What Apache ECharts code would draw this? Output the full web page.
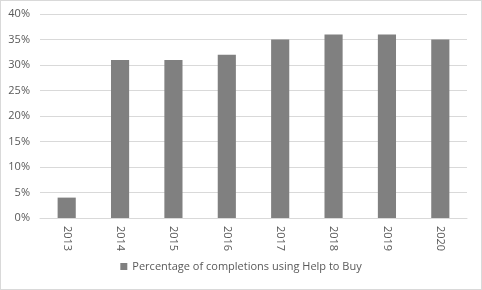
<!DOCTYPE html>
<html><head><meta charset="utf-8">
<script src="https://cdn.jsdelivr.net/npm/echarts@6/dist/echarts.min.js"></script>
<style>html,body{margin:0;padding:0;background:#fff}#c{width:482px;height:290px;box-sizing:border-box;border:1px solid #d9d9d9}</style>
</head><body><div id="c"></div>
<script>
const categories = ['2013','2014','2015','2016','2017','2018','2019','2020'];
const values = [4, 31, 31, 32, 35, 36, 36, 35];
const seriesName = 'Percentage of completions using Help to Buy';
const chart = echarts.init(document.getElementById('c'));
const font = 'Open Sans';
chart.setOption({
  animation: false,
  textStyle: {fontFamily: font},
  grid: {left: 39, right: 14, top: 13, bottom: 71},
  legend: {
    data: [seriesName], bottom: 12, left: 'center', icon: 'rect', itemWidth: 7, itemHeight: 7, itemGap: 4,
    textStyle: {color: '#595959', fontSize: 11, fontFamily: font}
  },
  xAxis: {
    type: 'category', data: categories,
    axisLine: {lineStyle: {color: '#d9d9d9'}}, axisTick: {show: false},
    axisLabel: {rotate: -90, color: '#595959', fontSize: 11, margin: 8, fontFamily: font}
  },
  yAxis: {
    type: 'value', min: 0, max: 40, interval: 5,
    axisLine: {show: false}, axisTick: {show: false},
    axisLabel: {formatter: '{value}%', color: '#595959', fontSize: 11, margin: 10, fontFamily: font},
    splitLine: {lineStyle: {color: '#d9d9d9'}}
  },
  series: [{
    name: seriesName, type: 'bar', data: values, barWidth: '34%',
    itemStyle: {color: '#808080'}
  }]
});
</script></body></html>
